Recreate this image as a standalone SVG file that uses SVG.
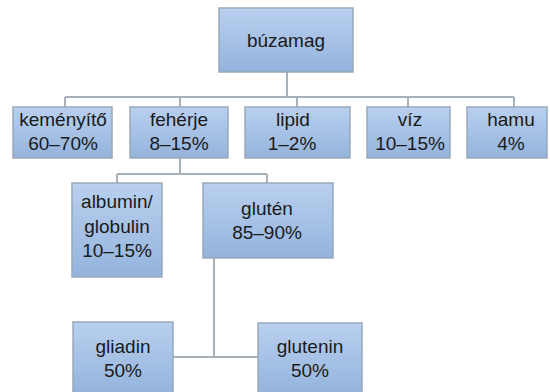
<svg xmlns="http://www.w3.org/2000/svg" width="550" height="392" viewBox="0 0 550 392">
<defs>
<linearGradient id="g" x1="0" y1="0" x2="0" y2="1">
<stop offset="0" stop-color="#b9d0ef"/>
<stop offset="1" stop-color="#94b3dc"/>
</linearGradient>
<style>
.box{fill:url(#g);stroke:#9aa9bb;stroke-width:1.5}
.t{font-family:"Liberation Sans",Arial,sans-serif;font-size:19px;fill:#1a1a1a;text-anchor:middle}
.c{fill:none;stroke:#a8b0b9;stroke-width:2}
</style>
</defs>
<rect width="550" height="392" fill="#ffffff"/>
<g id="connectors">
<path class="c" d="M287 72V97M65 97H514M65 97V107M180 97V107M297 97V107M408 97V107M514 97V107"/>
<path class="c" d="M180 158V174M117 174H267M117 174V183M267 174V183"/>
<path class="c" d="M214 258V357M173 357H258"/>
</g>
<g id="buzamag">
<rect class="box" x="219" y="8" width="134" height="64"/>
<text class="t" x="286" y="47">búzamag</text>
</g>
<g id="kemenyito">
<rect class="box" x="13" y="107" width="99" height="51"/>
<text class="t" x="63" y="126">keményítő</text>
<text class="t" x="63" y="150">60–70%</text>
</g>
<g id="feherje">
<rect class="box" x="130" y="107" width="98" height="51"/>
<text class="t" x="179" y="126">fehérje</text>
<text class="t" x="179" y="150">8–15%</text>
</g>
<g id="lipid">
<rect class="box" x="245" y="107" width="105" height="51"/>
<text class="t" x="293" y="126">lipid</text>
<text class="t" x="292" y="150">1–2%</text>
</g>
<g id="viz">
<rect class="box" x="367" y="107" width="83" height="51"/>
<text class="t" x="410" y="126">víz</text>
<text class="t" x="410" y="150">10–15%</text>
</g>
<g id="hamu">
<rect class="box" x="467" y="107" width="80" height="51"/>
<text class="t" x="511" y="126">hamu</text>
<text class="t" x="511" y="150">4%</text>
</g>
<g id="albumin">
<rect class="box" x="72" y="183" width="90" height="94"/>
<text class="t" x="117" y="208">albumin/</text>
<text class="t" x="117" y="233">globulin</text>
<text class="t" x="117" y="257">10–15%</text>
</g>
<g id="gluten">
<rect class="box" x="203" y="183" width="130" height="75"/>
<text class="t" x="267" y="215">glutén</text>
<text class="t" x="267" y="239">85–90%</text>
</g>
<g id="gliadin">
<rect class="box" x="73" y="322" width="100" height="72"/>
<text class="t" x="123" y="353">gliadin</text>
<text class="t" x="123" y="377">50%</text>
</g>
<g id="glutenin">
<rect class="box" x="258" y="323" width="104" height="71"/>
<text class="t" x="310" y="353">glutenin</text>
<text class="t" x="310" y="377">50%</text>
</g>
</svg>
